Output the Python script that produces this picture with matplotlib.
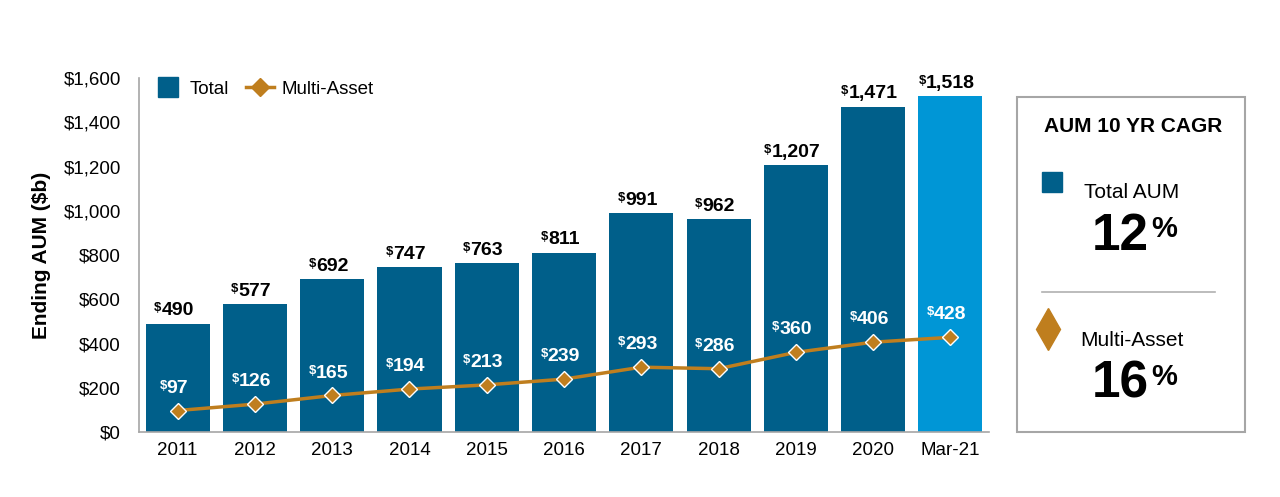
import matplotlib
matplotlib.use("Agg")
import matplotlib.pyplot as plt
from matplotlib.patches import Rectangle
from matplotlib.lines import Line2D

plt.rcParams['font.family'] = ['Liberation Sans', 'DejaVu Sans']

categories = ['2011', '2012', '2013', '2014', '2015', '2016', '2017', '2018', '2019', '2020', 'Mar-21']
total_aum = [490, 577, 692, 747, 763, 811, 991, 962, 1207, 1471, 1518]
multi_asset = [97, 126, 165, 194, 213, 239, 293, 286, 360, 406, 428]
y_ticks = [0, 200, 400, 600, 800, 1000, 1200, 1400, 1600]
cagr_total = '12'
cagr_multi = '16'

DARK = '#005F8A'
LIGHT = '#0096D6'
GOLD = '#BF7E1E'

fig = plt.figure(figsize=(12.8, 4.97), dpi=100)
ax = fig.add_axes([0.1086, 0.1308, 0.6641, 0.7122])

x = list(range(len(categories)))
colors = [DARK] * (len(categories) - 1) + [LIGHT]
bars = ax.bar(x, total_aum, width=0.83, color=colors, zorder=2)
ax.plot(x, multi_asset, color=GOLD, lw=2.5, marker='D', ms=8.5,
        mfc=GOLD, mec='white', mew=1.0, zorder=3)

ax.set_xlim(-0.5, len(categories) - 0.5)
ax.set_ylim(0, 1600)
ax.set_yticks(y_ticks)
ax.set_yticklabels([f'${v:,}' for v in y_ticks], fontsize=13.5)
ax.set_xticks(x)
ax.set_xticklabels(categories, fontsize=13.5)
ax.tick_params(length=0)
ax.tick_params(axis='x', pad=7)
ax.tick_params(axis='y', pad=13)
for s in ['top', 'right']:
    ax.spines[s].set_visible(False)
for s in ['left', 'bottom']:
    ax.spines[s].set_color('#A6A6A6')
    ax.spines[s].set_linewidth(1.2)
ax.set_ylabel('Ending AUM ($b)', fontsize=15, fontweight='bold', labelpad=9)


def dollar_label(xv, yv, val, color, dy):
    t = ax.annotate(f'{val:,}', xy=(xv, yv), xytext=(0, dy), textcoords='offset points',
                    ha='center', va='bottom', fontsize=14, fontweight='bold',
                    color=color, zorder=5)
    ax.annotate('$', xy=(0, 1.0), xycoords=t, ha='right', va='top',
                fontsize=9.5, fontweight='bold', color=color, zorder=5)


for xi, v in zip(x, total_aum):
    dollar_label(xi, v, v, 'black', 3)
for xi, v in zip(x, multi_asset):
    dollar_label(xi, v, v, 'white', 10)

handles = [Line2D([], [], ls='none', marker='s', ms=14, mfc=DARK, mec=DARK),
           Line2D([], [], color=GOLD, lw=2.5, marker='D', ms=9, mfc=GOLD, mec=GOLD)]
ax.legend(handles, ['Total', 'Multi-Asset'], loc='upper left', bbox_to_anchor=(0.0088, 1.014),
          borderaxespad=0, ncol=2, frameon=False, fontsize=13.5, handlelength=1.5,
          columnspacing=0.9, handletextpad=0.4)

# Right CAGR box
box = Rectangle((1017 / 1280, (497 - 432) / 497), 228 / 1280, 335 / 497,
                transform=fig.transFigure, fill=False, ec='#A6A6A6', lw=1.5)
fig.add_artist(box)


def fx(px):
    return px / 1280


def fy(py):
    return (497 - py) / 497


fig.text(fx(1133), fy(127), 'AUM 10 YR CAGR', ha='center', va='center', fontsize=15, fontweight='bold')
fig.add_artist(Line2D([fx(1052)], [fy(182)], marker='s', ms=14.5, mfc=DARK, mec=DARK,
                      transform=fig.transFigure))
fig.text(fx(1132), fy(193), 'Total AUM', ha='center', va='center', fontsize=15)
t1 = fig.text(fx(1120), fy(236), cagr_total, ha='center', va='center', fontsize=37, fontweight='bold')
fig.text(fx(1151), fy(215), '%', ha='left', va='top', fontsize=21, fontweight='bold')
fig.add_artist(Line2D([fx(1042), fx(1215)], [fy(292), fy(292)], color='#B0B0B0', lw=1.2,
                      transform=fig.transFigure))
fig.add_artist(Line2D([fx(1048)], [fy(329)], marker='d', ms=21, mfc=GOLD, mec=GOLD,
                      transform=fig.transFigure))
fig.text(fx(1132), fy(341), 'Multi-Asset', ha='center', va='center', fontsize=15)
t2 = fig.text(fx(1120), fy(384), cagr_multi, ha='center', va='center', fontsize=37, fontweight='bold')
fig.text(fx(1151), fy(363), '%', ha='left', va='top', fontsize=21, fontweight='bold')

fig.savefig('out.png', dpi=100, facecolor='white')
